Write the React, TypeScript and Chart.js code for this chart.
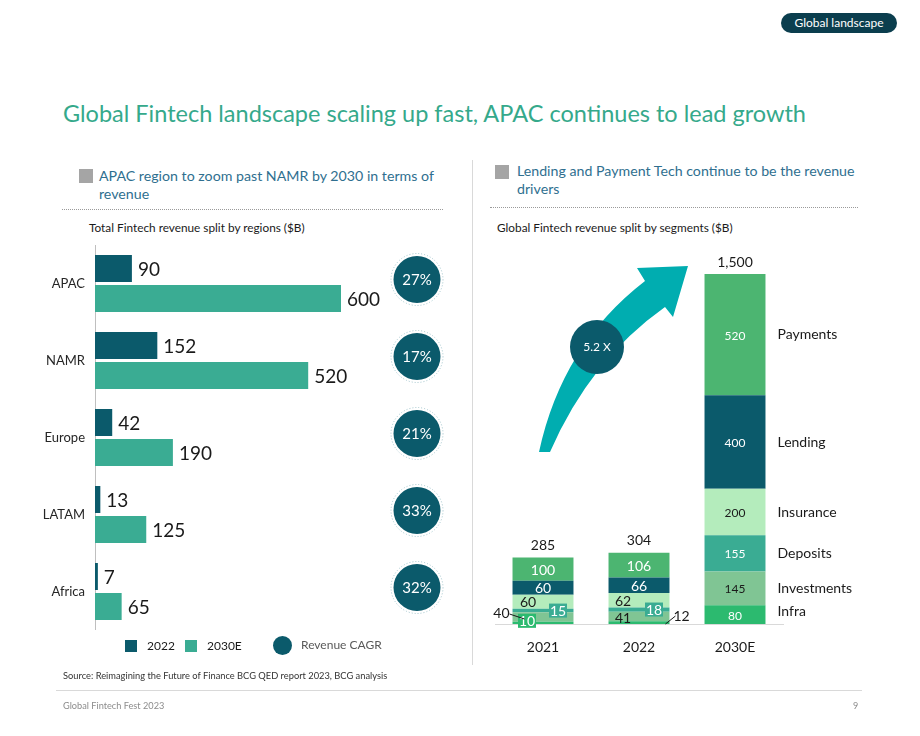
import React, { useEffect, useRef } from "react";
import { Chart, registerables } from "chart.js";
Chart.register(...registerables);

const regions = ["APAC", "NAMR", "Europe", "LATAM", "Africa"];
const rev2022 = [90, 152, 42, 13, 7];
const rev2030 = [600, 520, 190, 125, 65];
const cagr = ["27%", "17%", "21%", "33%", "32%"];

const years = ["2021", "2022", "2030E"];
const segmentNames = ["Infra", "Investments", "Deposits", "Insurance", "Lending", "Payments"];
const infra = [10, 12, 80];
const investments = [40, 41, 145];
const deposits = [15, 18, 155];
const insurance = [60, 62, 200];
const lending = [60, 66, 400];
const payments = [100, 106, 520];
const totals = ["285", "304", "1,500"];
const growthLabel = "5.2 X";

const FONT = "Lato, 'Open Sans', sans-serif";
const DARK = "#0b5a6b";
const TEAL = "#3aac93";

const segColors = ["#2cba6f", "#80c594", "#3aac93", "#b4ecbc", "#0b5a6b", "#4cb571"];
const segTextDark = [false, true, false, true, false, false];

const abs = (l: number, t: number, extra: any = {}) => ({ position: "absolute" as const, left: l, top: t, ...extra });

function LeftChart() {
  const ref = useRef<HTMLCanvasElement>(null);
  useEffect(() => {
    const labelPlugin = {
      id: "leftLabels",
      afterDatasetsDraw(chart: any) {
        const ctx = chart.ctx;
        ctx.save();
        ctx.font = `19px ${FONT}`;
        ctx.fillStyle = "#1a1a1a";
        ctx.textBaseline = "middle";
        ctx.textAlign = "left";
        chart.data.datasets.forEach((ds: any, di: number) => {
          const meta = chart.getDatasetMeta(di);
          meta.data.forEach((el: any, i: number) => {
            ctx.fillText(String(ds.data[i]), el.x + 6, el.y + 1);
          });
        });
        // CAGR circles
        const ys = chart.scales.y;
        cagr.forEach((c, i) => {
          const cx = 387;
          const cy = ys.getPixelForValue(i) - 4;
          ctx.beginPath();
          ctx.setLineDash([1, 2]);
          ctx.strokeStyle = "#9fc3ca";
          ctx.lineWidth = 1;
          ctx.arc(cx, cy, 26, 0, Math.PI * 2);
          ctx.stroke();
          ctx.setLineDash([]);
          ctx.beginPath();
          ctx.fillStyle = DARK;
          ctx.arc(cx, cy, 23.5, 0, Math.PI * 2);
          ctx.fill();
          ctx.fillStyle = "#ffffff";
          ctx.font = `15px ${FONT}`;
          ctx.textAlign = "center";
          ctx.fillText(c, cx, cy + 1);
        });
        ctx.restore();
      },
    };
    const chart = new Chart(ref.current!, {
      type: "bar",
      data: {
        labels: regions,
        datasets: [
          { label: "2022", data: rev2022, backgroundColor: DARK, barPercentage: 0.9, categoryPercentage: 0.78 },
          { label: "2030E", data: rev2030, backgroundColor: TEAL, barPercentage: 0.9, categoryPercentage: 0.78 },
        ],
      },
      options: {
        indexAxis: "y",
        responsive: false,
        animation: false,
        layout: { padding: 0 },
        plugins: { legend: { display: false }, tooltip: { enabled: false } },
        scales: {
          x: { display: false, min: 0, max: 1000 },
          y: {
            grid: { display: false, drawTicks: false },
            border: { display: true, color: "#bfbfbf" },
            ticks: { font: { size: 13, family: FONT }, color: "#262626", padding: 10 },
            afterFit: (s: any) => { s.width = 65; s.paddingTop = 0; s.paddingBottom = 0; },
          },
        },
      } as any,
      plugins: [labelPlugin],
    });
    return () => chart.destroy();
  }, []);
  return <canvas ref={ref} width={475} height={385} style={abs(30, 245)} />;
}

function RightChart() {
  const ref = useRef<HTMLCanvasElement>(null);
  useEffect(() => {
    const series = [infra, investments, deposits, insurance, lending, payments];
    // special placements for the thin segments of the small bars
    const place: Record<string, any> = {
      "3-0": { dx: -15 },
      "3-1": { dx: -16 },
      "2-0": { dx: 15, box: true },
      "2-1": { dx: 15, box: true },
      "1-0": { outside: "left" },
      "1-1": { dx: -16, dy: 1 },
      "0-0": { dx: -16, dy: -2, box: true },
      "0-1": { outside: "right" },
    };
    const plugin = {
      id: "rightLabels",
      afterDatasetsDraw(chart: any) {
        const ctx = chart.ctx;
        ctx.save();
        ctx.textBaseline = "middle";
        chart.data.datasets.forEach((ds: any, di: number) => {
          const meta = chart.getDatasetMeta(di);
          meta.data.forEach((el: any, i: number) => {
            const txt = String(ds.data[i]);
            const cy = (el.y + el.base) / 2;
            const p = place[`${di}-${i}`] || {};
            ctx.font = `${i === 2 ? 12 : 14}px ${FONT}`;
            ctx.textAlign = "center";
            if (p.outside === "left") {
              const x0 = el.x - el.width / 2;
              ctx.strokeStyle = "#1a1a1a";
              ctx.lineWidth = 1;
              ctx.beginPath();
              ctx.moveTo(x0 - 3, cy - 3);
              ctx.lineTo(x0 + 12, cy + 2);
              ctx.stroke();
              ctx.fillStyle = "#1a1a1a";
              ctx.textAlign = "right";
              ctx.fillText(txt, x0 - 3, cy - 4);
              return;
            }
            if (p.outside === "right") {
              const x1 = el.x + el.width / 2;
              ctx.strokeStyle = "#1a1a1a";
              ctx.lineWidth = 1;
              ctx.beginPath();
              ctx.moveTo(x1 - 4, el.base);
              ctx.lineTo(x1 + 6, el.base - 8);
              ctx.stroke();
              ctx.fillStyle = "#1a1a1a";
              ctx.textAlign = "left";
              ctx.fillText(txt, x1 + 4, el.base - 8);
              return;
            }
            const x = el.x + (p.dx || 0);
            const y = cy + (p.dy || 0);
            if (p.box) {
              ctx.fillStyle = segColors[di];
              ctx.fillRect(x - 9, y - 7, 18, 14);
              ctx.fillStyle = "#ffffff";
              ctx.fillText(txt, x, y + 1);
              return;
            }
            ctx.fillStyle = segTextDark[di] ? "#1a1a1a" : "#ffffff";
            ctx.fillText(txt, x, y + 1);
          });
        });
        // totals
        const topMeta = chart.getDatasetMeta(chart.data.datasets.length - 1);
        ctx.font = `14px ${FONT}`;
        ctx.fillStyle = "#1a1a1a";
        ctx.textAlign = "center";
        topMeta.data.forEach((el: any, i: number) => {
          ctx.fillText(totals[i], el.x, el.y - 12);
        });
        // segment names next to last bar
        const last = years.length - 1;
        ctx.textAlign = "left";
        chart.data.datasets.forEach((ds: any, di: number) => {
          const el = chart.getDatasetMeta(di).data[last];
          const cy = (el.y + el.base) / 2;
          ctx.fillText(segmentNames[di], el.x + el.width / 2 + 12, di === 0 ? cy - 3 : cy);
        });
        ctx.restore();
      },
    };
    const chart = new Chart(ref.current!, {
      type: "bar",
      data: {
        labels: years,
        datasets: series.map((d, k) => ({
          label: segmentNames[k],
          data: d,
          backgroundColor: segColors[k],
          barPercentage: 0.635,
          categoryPercentage: 1,
          borderWidth: 0,
        })),
      },
      options: {
        responsive: false,
        animation: false,
        layout: { padding: { top: 44, left: 15, right: 97, bottom: 0 } },
        plugins: { legend: { display: false }, tooltip: { enabled: false } },
        scales: {
          x: {
            stacked: true,
            grid: { display: false, drawTicks: false },
            border: { display: true, color: "#d9d9d9" },
            ticks: { font: { size: 14, family: FONT }, color: "#1a1a1a", padding: 15 },
            afterFit: (s: any) => { s.height = 46; },
          },
          y: { stacked: true, display: false, min: 0, max: 1500 },
        },
      } as any,
      plugins: [plugin],
    });
    return () => chart.destroy();
  }, []);
  return <canvas ref={ref} width={400} height={440} style={abs(480, 230)} />;
}

export default function App() {
  useEffect(() => {
    document.body.style.margin = "0";
  }, []);
  const sub = { color: "#2f6f8f", fontSize: 14.2, lineHeight: "18px", fontFamily: FONT };
  return (
    <div style={{ position: "relative", width: 920, height: 736, background: "#fff", fontFamily: FONT, overflow: "hidden" }}>
      <div style={abs(781, 13, { width: 116, height: 20, borderRadius: 10, background: "#0b3e4e", color: "#fff", fontSize: 12, lineHeight: "20px", textAlign: "center" })}>Global landscape</div>
      <div style={abs(63, 98, { fontSize: 23.5, lineHeight: "30px", color: "#35a98b", whiteSpace: "nowrap" })}>
        Global Fintech landscape scaling up fast, APAC continues to lead growth
      </div>

      <div style={abs(79, 169, { width: 14, height: 14, background: "#a5a5a5" })} />
      <div style={abs(99, 167, { ...sub, whiteSpace: "nowrap" })}>APAC region to zoom past NAMR by 2030 in terms of<br />revenue</div>
      <div style={abs(62, 209, { width: 381, borderTop: "1px dotted #9a9a9a" })} />
      <div style={abs(89, 221, { fontSize: 11.8, lineHeight: "14px", color: "#1a1a1a", whiteSpace: "nowrap" })}>Total Fintech revenue split by regions ($B)</div>

      <div style={abs(472, 160, { width: 1, height: 505, background: "#d9d9d9" })} />

      <div style={abs(495, 165, { width: 14, height: 14, background: "#a5a5a5" })} />
      <div style={abs(517, 162, { ...sub, whiteSpace: "nowrap" })}>Lending and Payment Tech continue to be the revenue<br />drivers</div>
      <div style={abs(490, 207, { width: 368, borderTop: "1px dotted #9a9a9a" })} />
      <div style={abs(497, 221, { fontSize: 11.8, lineHeight: "14px", color: "#1a1a1a", whiteSpace: "nowrap" })}>Global Fintech revenue split by segments ($B)</div>

      <LeftChart />
      <RightChart />

      <svg width={920} height={736} style={abs(0, 0, { pointerEvents: "none" })}>
        <path d="M 539 452 Q 562 345 645 281 L 637 268 L 688 266 L 673 317 L 665 307 Q 590 360 550 452 Z" fill="#00adb0" />
        <circle cx={597} cy={347} r={27} fill={DARK} />
        <text x={597} y={351} fill="#fff" fontSize={12} textAnchor="middle" fontFamily={FONT}>{growthLabel}</text>
      </svg>

      <div style={abs(125, 640, { width: 12, height: 12, background: DARK })} />
      <div style={abs(147, 638, { fontSize: 12, lineHeight: "16px", color: "#1a1a1a" })}>2022</div>
      <div style={abs(185, 640, { width: 12, height: 12, background: TEAL })} />
      <div style={abs(207, 638, { fontSize: 12, lineHeight: "16px", color: "#1a1a1a" })}>2030E</div>
      <div style={abs(273, 636, { width: 19, height: 19, borderRadius: "50%", background: DARK })} />
      <div style={abs(301, 637, { fontSize: 12, lineHeight: "16px", color: "#595959" })}>Revenue CAGR</div>

      <div style={abs(63, 670, { fontSize: 9.3, lineHeight: "12px", color: "#333", whiteSpace: "nowrap" })}>Source: Reimagining the Future of Finance BCG QED report 2023, BCG analysis</div>
      <div style={abs(56, 690, { width: 806, height: 1, background: "#d9d9d9" })} />
      <div style={abs(63, 700, { fontSize: 9.2, lineHeight: "12px", color: "#8c8c8c" })}>Global Fintech Fest 2023</div>
      <div style={abs(853, 700, { fontSize: 9, lineHeight: "12px", color: "#8c8c8c" })}>9</div>
    </div>
  );
}
